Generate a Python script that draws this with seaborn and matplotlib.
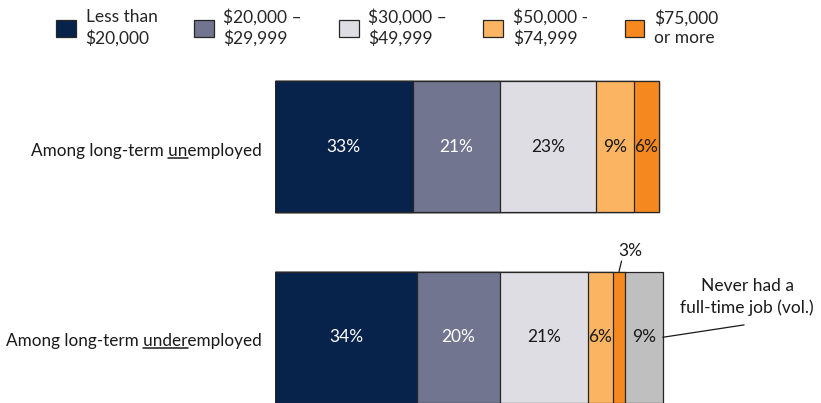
"""
Household income of the long-term unemployed / underemployed.
Stacked horizontal bars, seaborn layered-cumulative approach.
"""

import numpy as np
import pandas as pd
import matplotlib.pyplot as plt
import seaborn as sns
from matplotlib.patches import Patch
from matplotlib.lines import Line2D

# -- Data --------------------------------------
groups = ["Among long-term unemployed", "Among long-term underemployed"]
underlined = ["un", "under"]
brackets = [
    "Less than\n$20,000",
    "$20,000 –\n$29,999",
    "$30,000 –\n$49,999",
    "$50,000 -\n$74,999",
    "$75,000\nor more",
    "Never had a\nfull-time job (vol.)",
]
unemployed    = [33, 21, 23, 9, 6, 0]
underemployed = [34, 20, 21, 6, 3, 9]

colors      = ["#07234B", "#717590", "#DEDDE3", "#FBB461", "#F5891F", "#BFBFBF"]
text_colors = ["white", "white", "#1a1a1a", "#1a1a1a", "#1a1a1a", "#1a1a1a"]

# -- Long-form table with cumulative ends ------
values = np.array([unemployed, underemployed])
cums = values.cumsum(axis=1)
rows = []
for g, grp in enumerate(groups):
    for b, br in enumerate(brackets):
        rows.append({"group": grp, "bracket": br,
                     "value": values[g, b], "cum": cums[g, b]})
df = pd.DataFrame(rows)

sns.set_style("white")
plt.rcParams["font.family"] = ["Lato", "DejaVu Sans"]

fig = plt.figure(figsize=(8.21, 4.03), dpi=100)
W, H = 821, 403
PX_PER_PCT = 4.17
ax = fig.add_axes([275 / W, 0, (W - 275) / W, 333 / H])

# Draw largest cumulative first so each shorter bar sits on top
for b in range(len(brackets) - 1, -1, -1):
    sub = df[df["bracket"] == brackets[b]]
    sns.barplot(data=sub, x="cum", y="group", orient="h", order=groups,
                color=colors[b], saturation=1, width=0.69,
                edgecolor="#262626", linewidth=0.9, ax=ax)

ax.set_xlim(0, (W - 275) / PX_PER_PCT)
ax.set_ylim(1.345, -0.403)
ax.set_axis_off()

# -- Segment labels ----------------------------
for g in range(len(groups)):
    for b in range(len(brackets)):
        v = values[g, b]
        if v == 0 or (g == 1 and b == 4):
            continue
        ax.text(cums[g, b] - v / 2, g, f"{v}%", ha="center", va="center",
                fontsize=12.5, color=text_colors[b])

# small 3% segment labelled above the bar
mid3 = cums[1, 4] - values[1, 4] / 2
ax.text(mid3 + 2.6, 0.545, f"{values[1, 4]}%", ha="center", va="center",
        fontsize=12.5, color="#1a1a1a")
ax.plot([mid3, mid3 + 0.6], [0.655, 0.60], color="#1a1a1a", lw=0.9)

# "Never had" callout
ax.text(113.2, 0.79, brackets[5], ha="center", va="center",
        fontsize=12.5, color="#1a1a1a", linespacing=1.4)
ax.plot([cums[1, 5], 112.5], [1.0, 0.935], color="#1a1a1a", lw=0.9)

# -- Row labels with underlined part -----------
label_texts = []
for g, grp in enumerate(groups):
    t = ax.text(-13 / PX_PER_PCT, g + 0.02, grp, ha="right", va="center",
                fontsize=12.3, color="#1a1a1a")
    label_texts.append(t)

# -- Legend ------------------------------------
handles = [Patch(facecolor=colors[b], edgecolor="#262626", linewidth=0.9)
           for b in range(5)]
leg = fig.legend(handles, brackets[:5], ncol=5, loc="upper left",
                 bbox_to_anchor=(56 / W, 1 - 9 / H), frameon=False,
                 fontsize=12.5, handlelength=1.15, handleheight=1.1,
                 handletextpad=0.55, columnspacing=2.1,
                 borderpad=0, borderaxespad=0)
for t in leg.get_texts():
    t.set_linespacing(1.3)

# -- Underlines (measured after a draw) --------
fig.canvas.draw()
renderer = fig.canvas.get_renderer()
inv = fig.transFigure.inverted()
for t, grp, part in zip(label_texts, groups, underlined):
    suffix = grp.split(part, 1)[1]
    fp = t.get_fontproperties()
    bb = t.get_window_extent(renderer)
    w_suf = renderer.get_text_width_height_descent(suffix, fp, ismath=False)[0]
    w_part = renderer.get_text_width_height_descent(part, fp, ismath=False)[0]
    _, _, d = renderer.get_text_width_height_descent(grp, fp, ismath=False)
    x1 = bb.x1 - w_suf
    x0 = x1 - w_part
    y = bb.y0 + d - 2
    (fx0, fy), (fx1, _) = inv.transform([(x0, y), (x1, y)])
    fig.add_artist(Line2D([fx0, fx1], [fy, fy], color="#1a1a1a", lw=1.1))

fig.savefig("out.png", dpi=100)
plt.close()
